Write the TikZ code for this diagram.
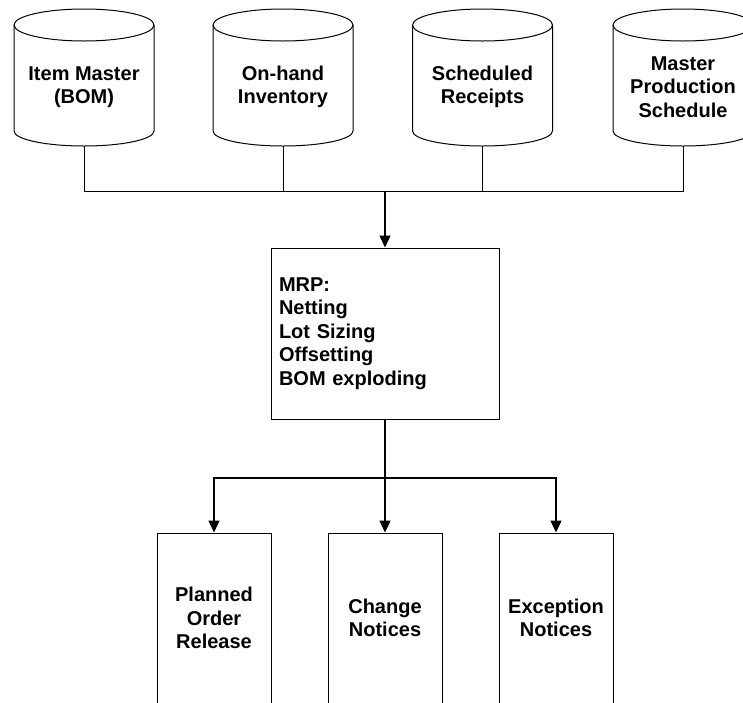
\documentclass[tikz,border=0pt]{standalone}
\usepackage{fontspec}
\setmainfont{Liberation Sans}
\usetikzlibrary{arrows.meta,calc}
\begin{document}
\begin{tikzpicture}[x=1pt,y=1pt,
  every node/.style={font=\bfseries\fontsize{20}{23.5}\selectfont},
  cyltext/.style={minimum width=140pt,minimum height=118pt,inner sep=0pt,align=center},
  cylline/.style={line width=1pt},
  conn/.style={line width=1pt},
  arr/.style={line width=1.4pt,-{Triangle[length=12pt,width=11pt]}},
  mrpbox/.style={draw,line width=1pt,minimum width=228pt,minimum height=171pt,text width=212pt,inner sep=8pt,align=left},
  outbox/.style={draw,line width=1pt,minimum width=114pt,minimum height=170pt,inner sep=2pt,align=center}]
\useasboundingbox (0,0) rectangle (743,-702);
\clip (0,0) rectangle (743,-702);
\fill[white] (0,0) rectangle (743,-702);
% cylinders
\foreach \cx/\nm/\txt in {84/c1/{Item Master\\(BOM)},283/c2/{On-hand\\Inventory},482.5/c3/{Scheduled\\Receipts},683/c4/{Master\\Production\\Schedule}}{
  \draw[cylline] (\cx-70,-25) -- (\cx-70,-131) arc[start angle=180,end angle=360,x radius=70,y radius=15] -- (\cx+70,-25);
  \draw[cylline] (\cx,-25) ellipse[x radius=70,y radius=16];
  \node[cyltext] (\nm) at (\cx,-87) {\txt};
}
% MRP box
\node[mrpbox] (mrp) at (385,-333.5) {MRP:\\Netting\\Lot Sizing\\Offsetting\\BOM exploding};
% outputs
\node[outbox] (o1) at (214,-618) {Planned\\Order\\Release};
\node[outbox] (o2) at (385,-618) {Change\\Notices};
\node[outbox] (o3) at (556,-618) {Exception\\Notices};
% bus from cylinders
\draw[conn] (c1.south) -- (c1.south |- 0,-191) -- (c4.south |- 0,-191) -- (c4.south);
\draw[conn] (c2.south) -- (c2.south |- 0,-191);
\draw[conn] (c3.south) -- (c3.south |- 0,-191);
\draw[arr] (mrp.north |- 0,-191) -- (mrp.north);
% outputs
\draw[arr] (mrp.south) -- (o2.north);
\draw[arr] (mrp.south) -- (mrp.south |- 0,-478) -| (o1.north);
\draw[arr] (mrp.south) -- (mrp.south |- 0,-478) -| (o3.north);
\end{tikzpicture}
\end{document}
